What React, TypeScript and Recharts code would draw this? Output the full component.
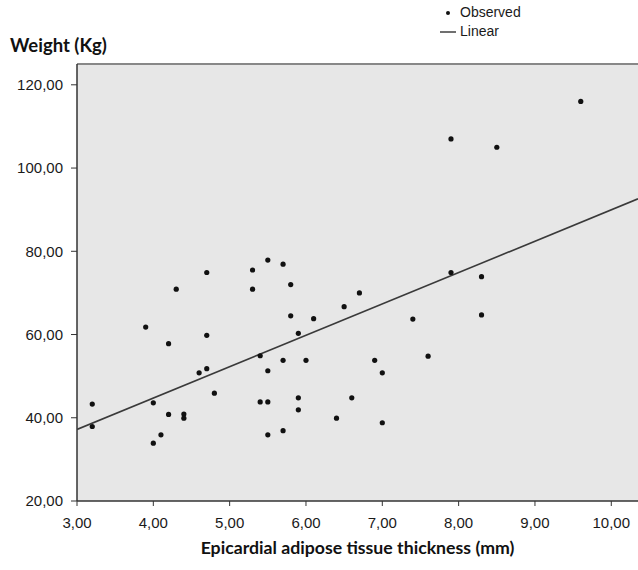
import {
  CartesianGrid,
  ReferenceLine,
  Scatter,
  ScatterChart,
  XAxis,
  YAxis,
} from "recharts";

// Observed points: epicardial fat thickness (mm) vs weight (kg).
const THICKNESS = [
  3.2, 3.2, 3.9, 4.0, 4.0, 4.1, 4.2, 4.2, 4.3, 4.4, 4.4, 4.6, 4.7, 4.7, 4.7,
  4.8, 5.3, 5.3, 5.4, 5.4, 5.5, 5.5, 5.5, 5.5, 5.7, 5.7, 5.7, 5.8, 5.8, 5.9,
  5.9, 5.9, 6.0, 6.1, 6.4, 6.5, 6.6, 6.7, 6.9, 7.0, 7.0, 7.4, 7.6, 7.9, 7.9,
  8.3, 8.3, 8.5, 9.6,
];
const WEIGHT = [
  43.3, 37.9, 61.8, 43.6, 33.9, 35.9, 57.8, 40.8, 70.9, 40.9, 39.9, 50.8, 74.9,
  59.8, 51.8, 45.9, 75.5, 70.9, 54.9, 43.8, 77.9, 51.3, 43.8, 35.9, 76.9, 53.8,
  36.9, 72.0, 64.5, 60.3, 44.8, 41.9, 53.8, 63.8, 39.9, 66.7, 44.8, 70.0, 53.8,
  50.8, 38.8, 63.7, 54.8, 74.9, 107.0, 73.9, 64.7, 105.0, 116.0,
];

// Linear fit line, read at the two edges of the plot.
const FIT_X = [3.0, 10.35];
const FIT_Y = [37.2, 92.6];

const X_TICKS = [3, 4, 5, 6, 7, 8, 9, 10];
const Y_TICKS = [20, 40, 60, 80, 100, 120];

const observed = THICKNESS.map((x, i) => ({ x, y: WEIGHT[i] }));
const linear = FIT_X.map((x, i) => ({ x, y: FIT_Y[i] }));

const fmt = (v: number) => v.toFixed(2).replace(".", ",");
const TICK = { fill: "#1a1a1a", fontSize: 15, fontFamily: "Liberation Sans, Arial, sans-serif" };
const TITLE_FONT = "Lato, 'Open Sans', sans-serif";

function LegendBox() {
  return (
    <div
      style={{
        position: "absolute",
        left: 440,
        top: 3,
        fontFamily: "Liberation Sans, Arial, sans-serif",
        fontSize: 14,
        color: "#1a1a1a",
        lineHeight: "19px",
      }}
    >
      <div style={{ display: "flex", alignItems: "center" }}>
        <svg width={20} height={10}>
          <circle cx={8} cy={5} r={2} fill="#111" />
        </svg>
        <span>Observed</span>
      </div>
      <div style={{ display: "flex", alignItems: "center" }}>
        <svg width={20} height={10}>
          <line x1={0} x2={16} y1={5} y2={5} stroke="#333" strokeWidth={1.4} />
        </svg>
        <span>Linear</span>
      </div>
    </div>
  );
}

export default function App() {
  return (
    <div style={{ position: "absolute", left: 0, top: 0, width: 638, height: 570, background: "#fff" }}>
      <ScatterChart
        width={638}
        height={570}
        margin={{ top: 64, right: 0, left: 0, bottom: 0 }}
      >
        <CartesianGrid fill="#e7e7e7" horizontal={false} vertical={false} />
        <XAxis
          type="number"
          dataKey="x"
          domain={[3, 10.35]}
          ticks={X_TICKS}
          tickFormatter={fmt}
          allowDataOverflow
          height={69}
          tickSize={5}
          tickMargin={11}
          tick={TICK}
          axisLine={{ stroke: "#333", strokeWidth: 1.5 }}
          tickLine={{ stroke: "#333" }}
        />
        <YAxis
          type="number"
          dataKey="y"
          domain={[20, 125]}
          ticks={Y_TICKS}
          tickFormatter={fmt}
          allowDataOverflow
          width={77}
          tickSize={6}
          tickMargin={8}
          tick={TICK}
          axisLine={{ stroke: "#333", strokeWidth: 1.5 }}
          tickLine={{ stroke: "#333" }}
        />
        <ReferenceLine y={125} stroke="#888" strokeWidth={2} />
        <Scatter
          name="Linear"
          data={linear}
          line={{ stroke: "#3a3a3a", strokeWidth: 1.6 }}
          shape={() => <g />}
          isAnimationActive={false}
        />
        <Scatter
          name="Observed"
          data={observed}
          shape={(p: any) => <circle cx={p.cx} cy={p.cy} r={2.6} fill="#111" />}
          isAnimationActive={false}
        />
      </ScatterChart>
      <LegendBox />
      <div
        style={{
          position: "absolute",
          left: 10,
          top: 34,
          fontFamily: TITLE_FONT,
          fontWeight: 700,
          fontSize: 18.5,
          color: "#111",
        }}
      >
        Weight (Kg)
      </div>
      <div
        style={{
          position: "absolute",
          left: 77,
          width: 561,
          top: 537,
          textAlign: "center",
          fontFamily: TITLE_FONT,
          fontWeight: 700,
          fontSize: 17.7,
          color: "#111",
        }}
      >
        Epicardial adipose tissue thickness (mm)
      </div>
    </div>
  );
}
